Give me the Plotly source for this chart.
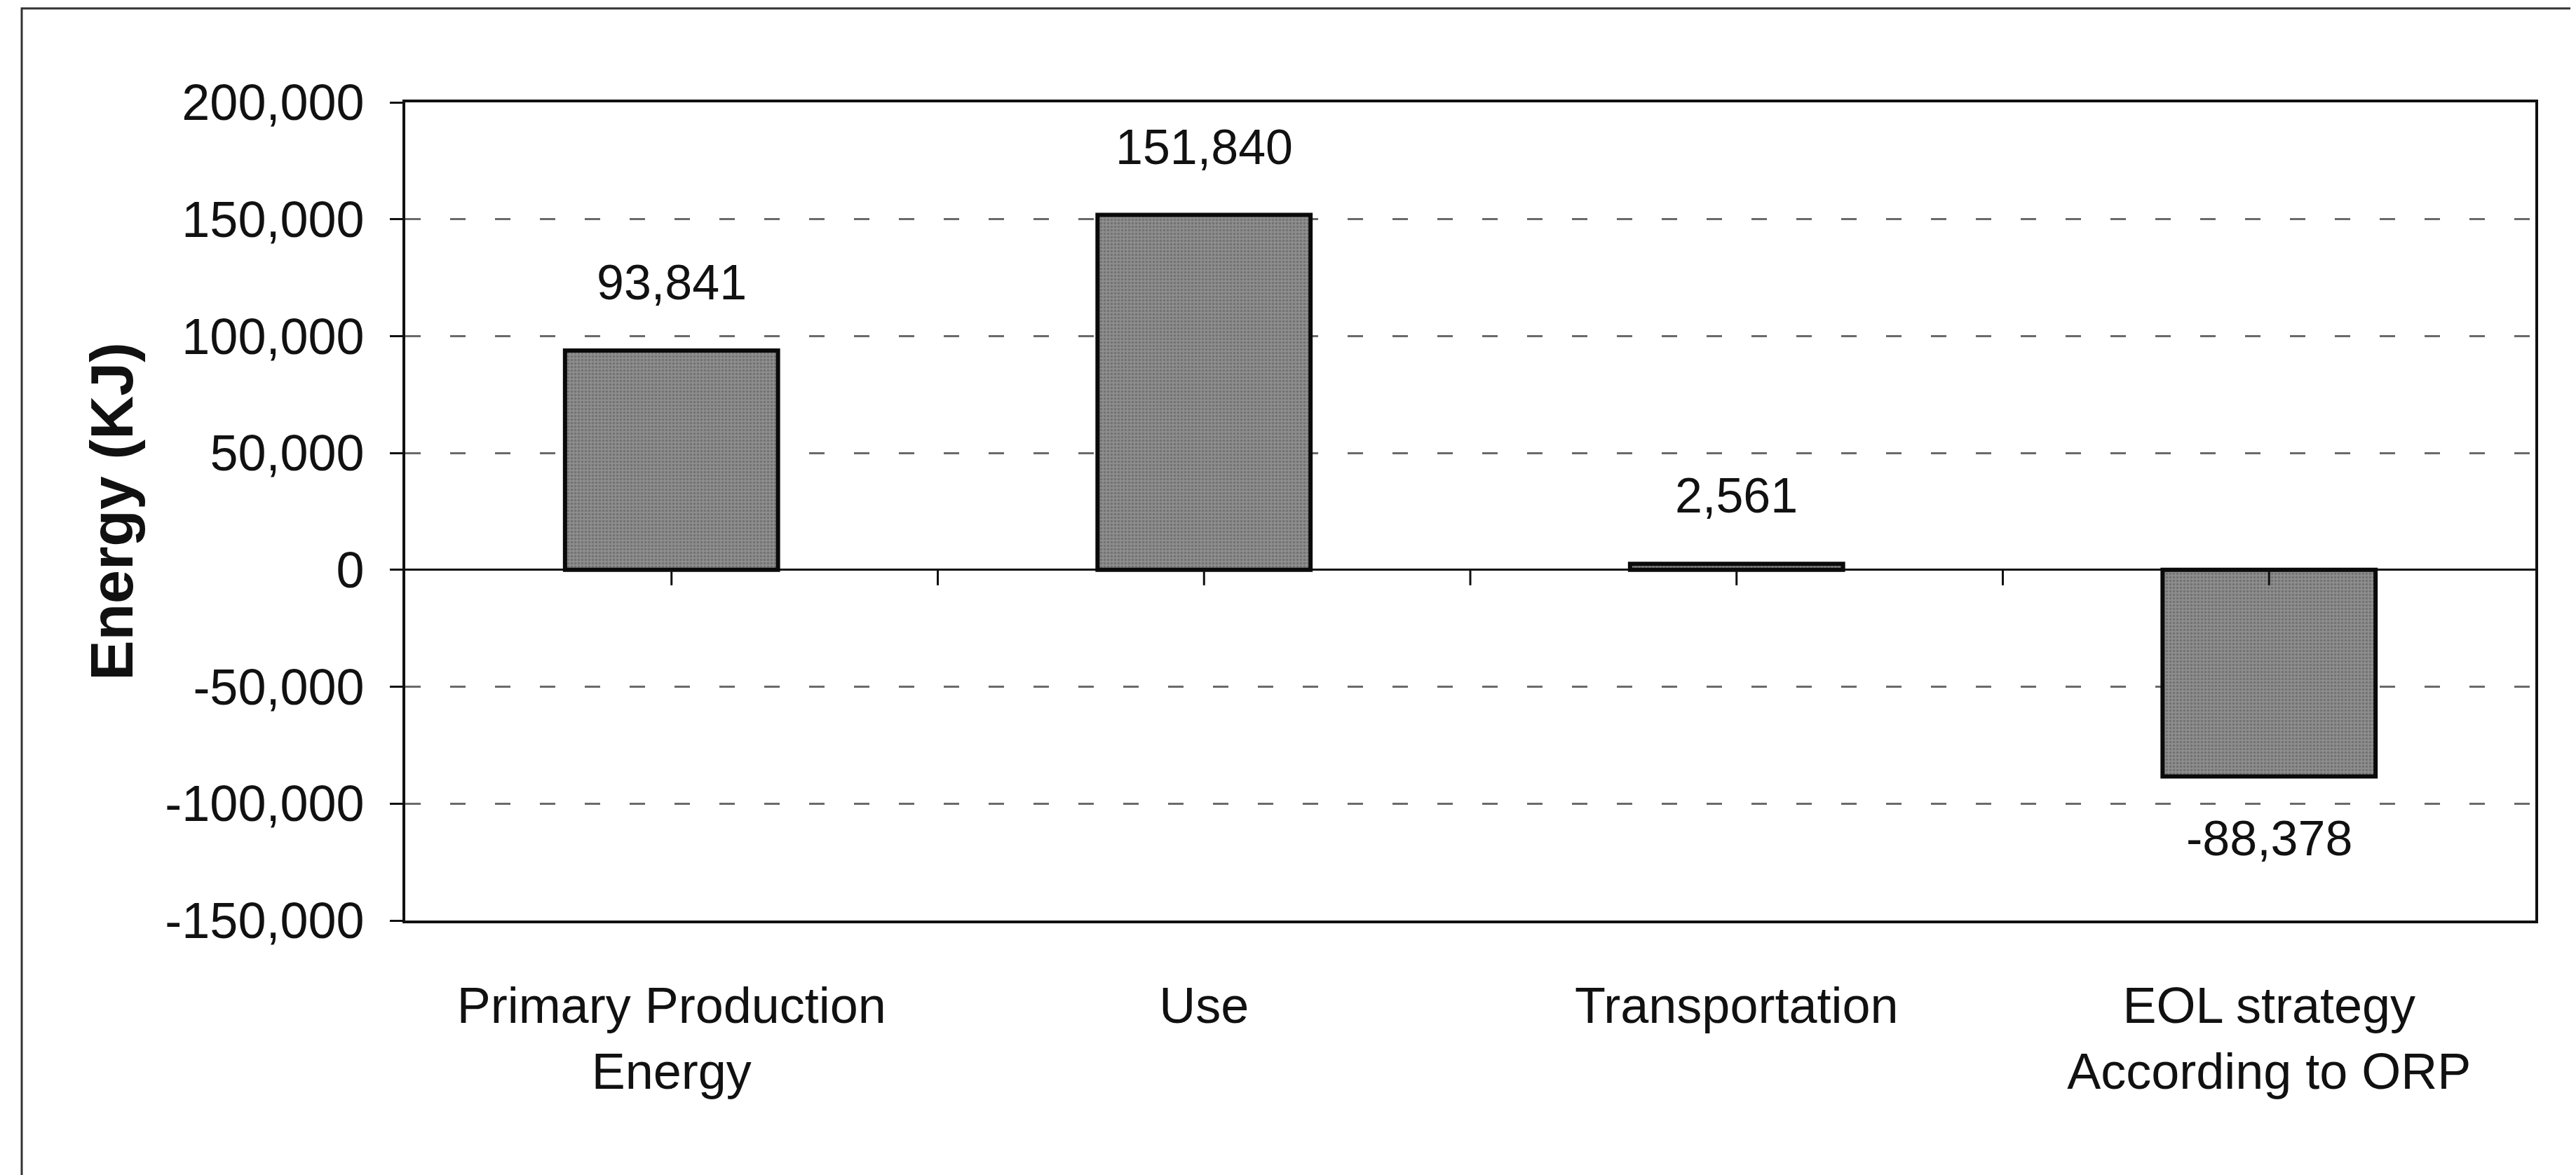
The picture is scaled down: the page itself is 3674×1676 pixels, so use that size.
import plotly.graph_objects as go

categories = ["Primary Production<br>Energy", "Use", "Transportation", "EOL strategy<br>According to ORP"]
energy_kj = [93841, 151840, 2561, -88378]
y_tick_values = [-150000, -100000, -50000, 0, 50000, 100000, 150000, 200000]
y_tick_labels = ["-150,000", "-100,000", "-50,000", "0", "50,000", "100,000", "150,000", "200,000"]

positions = list(range(len(categories)))
FONT = "Liberation Sans, Arial, Helvetica, sans-serif"

W, H = 3674, 1676
L, R, T, B = 570, 66, 138, 371

fig = go.Figure()
fig.add_trace(go.Bar(
    x=positions, y=energy_kj, width=0.4,
    marker=dict(color="#888888", line=dict(color="#0a0a0a", width=6),
                pattern=dict(shape=".", fgcolor="#555555", bgcolor="#8e8e8e", size=5, solidity=0.4)),
    showlegend=False, hoverinfo="skip",
))

# data labels
for xi, v in zip(positions, energy_kj):
    fig.add_annotation(x=xi, y=v, text=f"{v:,}", showarrow=False,
                       yshift=97 if v >= 0 else -88, yanchor="middle",
                       font=dict(family=FONT, size=70, color="#111111"))

# small tick marks crossing the zero line at category centres and boundaries
tick_pos = sorted(set(positions + [p + 0.5 for p in positions[:-1]]))
for tp in tick_pos:
    fig.add_shape(type="line", xref="x", yref="y", x0=tp, x1=tp,
                  ysizemode="pixel", yanchor=0, y0=0, y1=-22,
                  line=dict(color="#111111", width=3))

# outer frame around the whole chart
pw, ph = W - L - R, H - T - B
fig.add_shape(type="rect", xref="paper", yref="paper",
              x0=(23 - L) / pw, x1=(3668 - L) / pw,
              y0=(H - B - 1670) / ph, y1=(H - B - 4) / ph,
              line=dict(color="#333333", width=3), layer="below")

fig.update_layout(
    width=W, height=H,
    margin=dict(l=L, r=R, t=T, b=B),
    paper_bgcolor="white", plot_bgcolor="white",
    font=dict(family=FONT, color="#111111"),
    xaxis=dict(range=[-0.5, len(categories) - 0.5], tickvals=positions, ticktext=categories,
               ticks="", showgrid=False, zeroline=False, showline=True, linecolor="#111111",
               linewidth=4, mirror=True, tickfont=dict(family=FONT, size=72, color="#111111"),
               ticklabelstandoff=56),
    yaxis=dict(range=[-150000, 200000], tickvals=y_tick_values, ticktext=y_tick_labels,
               ticks="outside", ticklen=18, tickwidth=3, tickcolor="#111111",
               showgrid=True, gridcolor="#6a6a6a", gridwidth=3, griddash="22px,42px",
               zeroline=True, zerolinecolor="#111111", zerolinewidth=3,
               showline=True, linecolor="#111111", linewidth=4, mirror=True,
               tickfont=dict(family=FONT, size=72, color="#111111"),
               ticklabelstandoff=22,
               title=dict(text="<b>Energy (KJ)</b>", standoff=18,
                          font=dict(family=FONT, size=86, color="#111111"))),
)

fig.write_html("out.html")
